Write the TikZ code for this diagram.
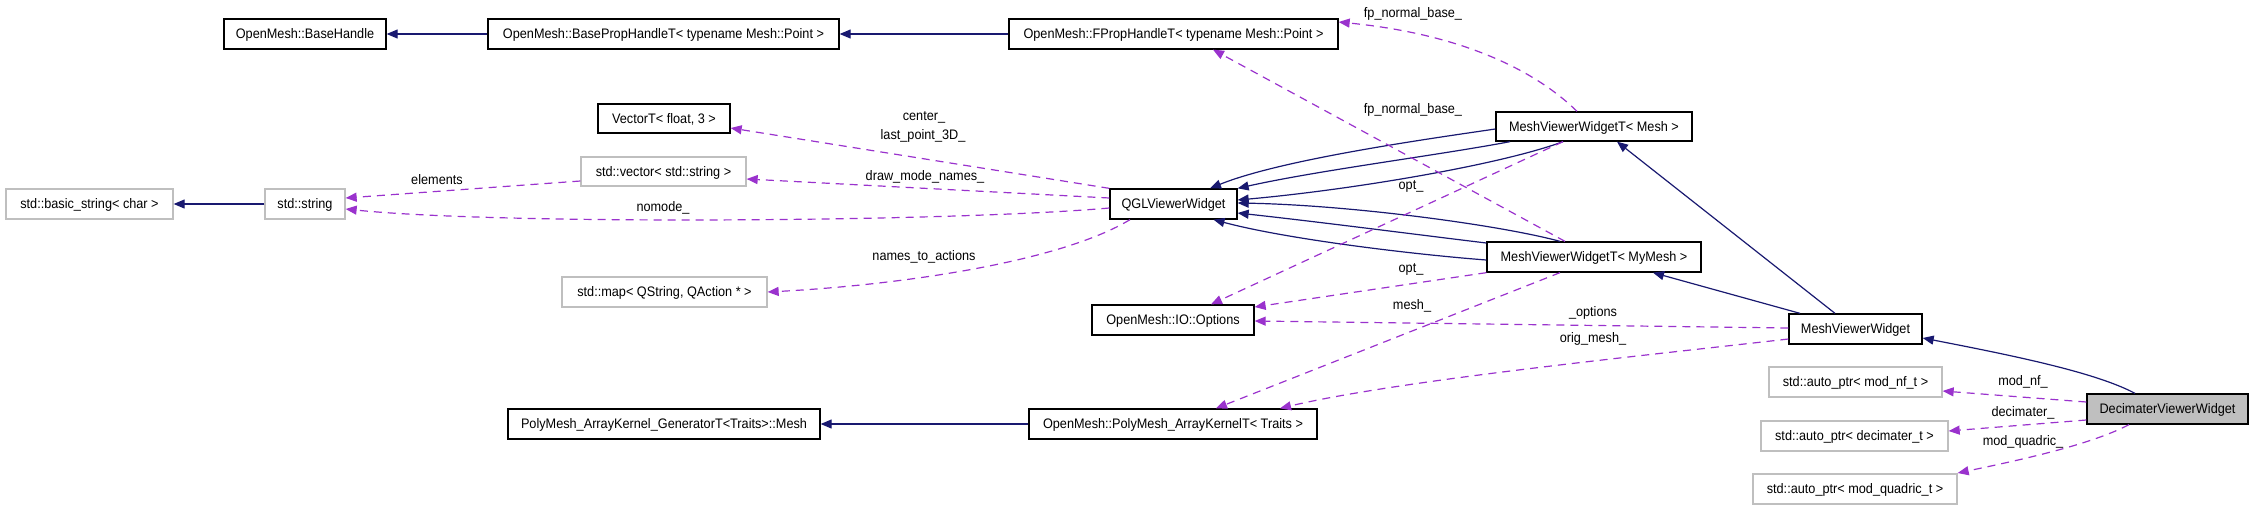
\documentclass[tikz,border=0pt]{standalone}
\usepackage{fontspec}
\setmainfont{Liberation Sans}[FakeStretch=0.92]
\usetikzlibrary{arrows.meta}
\definecolor{edgeblue}{HTML}{191970}
\definecolor{edgepurple}{HTML}{9A32CD}
\definecolor{greyborder}{HTML}{BFBFBF}
\tikzset{
  txt/.style={font=\fontsize{13.8}{15}\selectfont, text height=9.9pt, text depth=0pt},
  cls/.style={txt, draw=black, fill=white, line width=1.3pt, minimum height=30pt, inner sep=0pt},
  ext/.style={cls, draw=greyborder},
  cur/.style={cls, fill=greyborder},
  inh/.style={draw=edgeblue, line width=1.2pt, -{Triangle[length=11pt,width=9pt]}},
  use/.style={draw=edgepurple, line width=1.2pt, dash pattern=on 8pt off 6pt, -{Triangle[length=11pt,width=9pt]}},
  lbl/.style={txt, inner sep=0pt},
}
\begin{document}
\begin{tikzpicture}[x=1pt,y=-1pt]
\useasboundingbox (0,0) rectangle (2253,509);
% nodes
\node[cls, minimum width=162pt] (bh) at (305,34) {OpenMesh::BaseHandle};
\node[cls, minimum width=351pt] (bph) at (663.5,34) {OpenMesh::BasePropHandleT< typename Mesh::Point >};
\node[cls, minimum width=329pt] (fph) at (1173.5,34) {OpenMesh::FPropHandleT< typename Mesh::Point >};
\node[cls, minimum width=132pt, minimum height=29pt] (vec3) at (664,118.5) {VectorT< float, 3 >};
\node[ext, minimum width=165pt, minimum height=29pt] (svec) at (663.5,171.5) {std::vector< std::string >};
\node[ext, minimum width=167pt] (bstr) at (89.5,204) {std::basic\_string< char >};
\node[ext, minimum width=80pt] (sstr) at (305,204) {std::string};
\node[cls, minimum width=127pt] (qgl) at (1173.5,204) {QGLViewerWidget};
\node[cls, minimum width=196pt, minimum height=29pt] (mvm) at (1594,126.5) {MeshViewerWidgetT< Mesh >};
\node[cls, minimum width=214pt] (mvmy) at (1594,257) {MeshViewerWidgetT< MyMesh >};
\node[ext, minimum width=205pt] (smap) at (664.5,292) {std::map< QString, QAction * >};
\node[cls, minimum width=162pt] (opts) at (1173,320) {OpenMesh::IO::Options};
\node[cls, minimum width=312pt] (gen) at (664,424) {PolyMesh\_ArrayKernel\_GeneratorT<Traits>::Mesh};
\node[cls, minimum width=288pt] (pak) at (1173,424) {OpenMesh::PolyMesh\_ArrayKernelT< Traits >};
\node[cls, minimum width=133pt] (mvw) at (1855.5,329) {MeshViewerWidget};
\node[cur, minimum width=161pt] (dvw) at (2167.5,409) {DecimaterViewerWidget};
\node[ext, minimum width=173pt] (anf) at (1855.5,382) {std::auto\_ptr< mod\_nf\_t >};
\node[ext, minimum width=187pt] (adec) at (1854.5,436) {std::auto\_ptr< decimater\_t >};
\node[ext, minimum width=204pt] (aquad) at (1855,489) {std::auto\_ptr< mod\_quadric\_t >};
% inheritance edges
\draw[inh] (bph.west) -- (bh.east);
\draw[inh] (fph.west) -- (bph.east);
\draw[inh] (sstr.west) -- (bstr.east);
\draw[inh] (pak.west) -- (gen.east);
\draw[inh] ([yshift=-2.5pt]mvm.west) .. controls (1420,140) and (1280,160) .. ([xshift=36.5pt]qgl.north);
\draw[inh] ([xshift=-84pt]mvm.south) .. controls (1440,155) and (1320,170) .. (qgl.north east);
\draw[inh] ([xshift=-31pt]mvm.south) .. controls (1500,165) and (1350,190) .. ([yshift=4pt]qgl.east);
\draw[inh] ([xshift=-34pt]mvmy.north) .. controls (1500,225) and (1350,205) .. ([yshift=1pt]qgl.east);
\draw[inh] ([yshift=14pt]mvmy.west) .. controls (1420,235) and (1320,222) .. ([yshift=-9pt]qgl.east);
\draw[inh] ([yshift=-3pt]mvmy.west) .. controls (1420,255) and (1290,240) .. ([xshift=40pt]qgl.south);
\draw[inh] ([xshift=-55.5pt]mvw.north) -- ([xshift=59pt]mvmy.south);
\draw[inh] ([xshift=-20.5pt]mvw.north) -- ([xshift=23pt]mvm.south);
\draw[inh] ([xshift=-32.5pt]dvw.north) .. controls (2095,372) and (2010,355) .. ([yshift=-9pt]mvw.east);
% usage edges
\draw[use] ([xshift=-17pt]mvm.north) .. controls (1540,75) and (1470,35) .. ([yshift=12pt]fph.east);
\node[lbl] (l1) at (1413,13) {fp\_normal\_base\_};
\draw[use] ([xshift=-29pt]mvmy.north) -- ([xshift=39.5pt]fph.south);
\node[lbl] (l2) at (1413,109) {fp\_normal\_base\_};
\draw[use] (qgl.north west) -- ([yshift=-9.5pt]vec3.east);
\node[lbl] (l3) at (924,116) {center\_};
\node[lbl] (l4) at (923,135) {last\_point\_3D\_};
\draw[use] ([yshift=6pt]qgl.west) -- ([yshift=-7.5pt]svec.east);
\node[lbl] (l5) at (925,176) {draw\_mode\_names\_};
\draw[use] ([yshift=-9.5pt]svec.west) -- ([yshift=6pt]sstr.east);
\node[lbl] (l6) at (437,180) {elements};
\draw[use] ([yshift=-4pt]qgl.west) .. controls (950,222) and (500,225) .. ([yshift=-5pt]sstr.east);
\node[lbl] (l7) at (663,207) {nomode\_};
\draw[use] ([xshift=-43.5pt]qgl.south) .. controls (1060,262) and (900,285) .. (smap.east);
\node[lbl] (l8) at (924,256) {names\_to\_actions};
\draw[use] ([xshift=-31pt]mvm.south) -- ([xshift=38pt]opts.north);
\node[lbl] (l9) at (1411,185) {opt\_};
\draw[use] (mvmy.south west) -- ([yshift=13pt]opts.east);
\node[lbl] (l10) at (1411,268) {opt\_};
\draw[use] ([xshift=-34pt]mvmy.south) -- ([xshift=43pt]pak.north);
\node[lbl] (l11) at (1412,305) {mesh\_};
\draw[use] ([yshift=1pt]mvw.west) -- ([yshift=-1pt]opts.east);
\node[lbl] (l12) at (1593,312) {\_options};
\draw[use] ([yshift=-10pt]mvw.west) .. controls (1650,355) and (1400,380) .. ([xshift=107pt]pak.north);
\node[lbl] (l13) at (1593,338) {orig\_mesh\_};
\draw[use] ([yshift=7pt]dvw.west) -- ([yshift=-9pt]anf.east);
\node[lbl] (l14) at (2023,381) {mod\_nf\_};
\draw[use] ([yshift=-11pt]dvw.west) -- ([yshift=5pt]adec.east);
\node[lbl] (l15) at (2023,412) {decimater\_};
\draw[use] ([xshift=-38.5pt]dvw.south) .. controls (2090,445) and (2020,460) .. ([yshift=16pt]aquad.east);
\node[lbl] (l16) at (2023,441) {mod\_quadric\_};
\end{tikzpicture}
\end{document}
